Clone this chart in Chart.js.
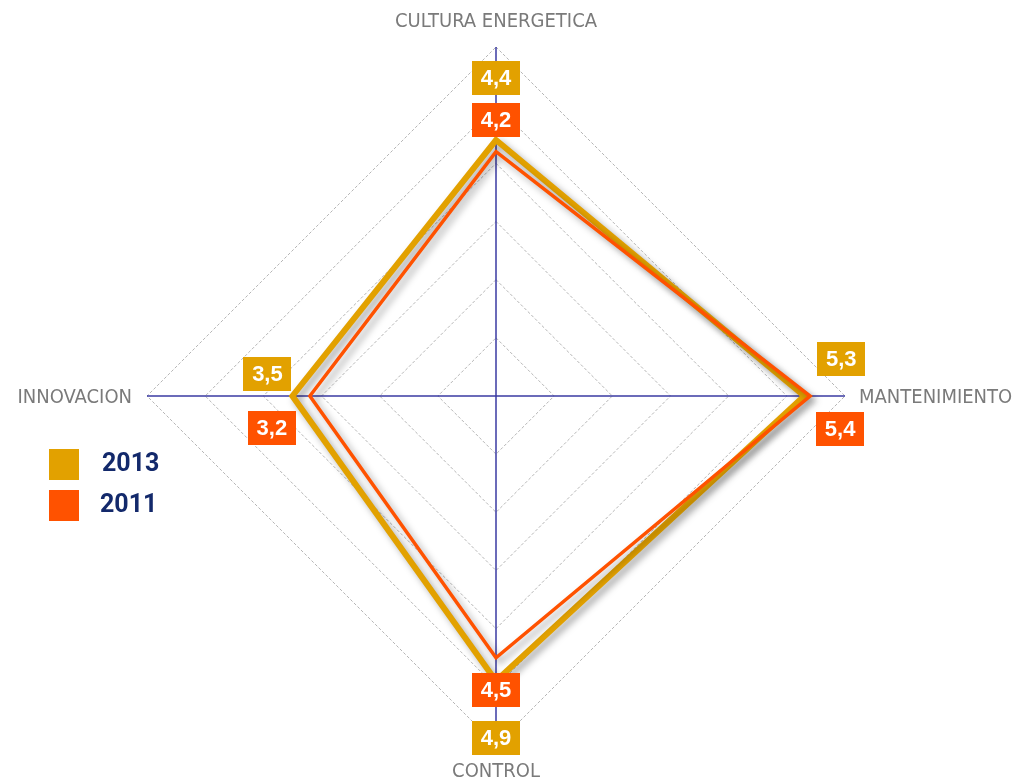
<!DOCTYPE html>
<html>
<head>
<meta charset="utf-8">
<script src="https://cdn.jsdelivr.net/npm/chart.js@4/dist/chart.umd.min.js"></script>
<style>
  html, body { margin: 0; padding: 0; background: #ffffff; }
  #wrap { width: 1017px; height: 779px; position: relative; }
</style>
</head>
<body>
<div id="wrap"><canvas id="c"></canvas></div>
<script>
const categories = ["CULTURA ENERGETICA", "MANTENIMIENTO", "CONTROL", "INNOVACION"];
const seriesNames = ["2013", "2011"];
const values2013 = [4.4, 5.3, 4.9, 3.5];
const values2011 = [4.2, 5.4, 4.5, 3.2];
const seriesColors = ["#E2A100", "#FF5200"];

const fmt = v => v.toFixed(1).replace('.', ',');

// pixel offsets of the value boxes from their data points [dataset][axis]
const boxOffsets = {
  "2013": [[0, -62], [37, -37], [0, 57], [-25, -22]],
  "2011": [[0, -32], [30, 33], [0, 32], [-38, 32]]
};

const decorPlugin = {
  id: 'decor',
  beforeDatasetDraw(chart) {
    const ctx = chart.ctx;
    ctx.save();
    ctx.shadowColor = 'rgba(0,0,0,0.35)';
    ctx.shadowBlur = 7;
    ctx.shadowOffsetX = 4;
    ctx.shadowOffsetY = 4;
  },
  afterDatasetDraw(chart) {
    chart.ctx.restore();
  },
  afterDraw(chart) {
    const ctx = chart.ctx;
    const scale = chart.scales.r;
    const R = scale.drawingArea;
    // axis labels
    ctx.save();
    ctx.font = '20px "DejaVu Sans Condensed", "DejaVu Sans"';
    ctx.fillStyle = '#7a7a7a';
    ctx.textBaseline = 'alphabetic';
    categories.forEach((lab, i) => {
      const p = scale.getPointPosition(i, R);
      if (i === 0) {
        ctx.textAlign = 'center';
        ctx.fillText(lab, p.x, p.y - 20);
      } else if (i === 1) {
        ctx.textAlign = 'left';
        ctx.fillText(lab, p.x + 14, p.y + 7);
      } else if (i === 2) {
        ctx.textAlign = 'center';
        ctx.fillText(lab, p.x, p.y + 32);
      } else {
        ctx.textAlign = 'right';
        ctx.fillText(lab, p.x - 15, p.y + 7);
      }
    });
    ctx.restore();

    // value boxes
    ctx.save();
    ctx.font = 'bold 22px "Liberation Sans", Arial, sans-serif';
    ctx.textAlign = 'center';
    ctx.textBaseline = 'middle';
    chart.data.datasets.forEach((ds, di) => {
      const meta = chart.getDatasetMeta(di);
      const offs = boxOffsets[ds.label];
      meta.data.forEach((pt, i) => {
        const cx = pt.x + offs[i][0];
        const cy = pt.y + offs[i][1];
        const w = 48, h = 34;
        ctx.fillStyle = ds.borderColor;
        ctx.fillRect(Math.round(cx - w / 2), Math.round(cy - h / 2), w, h);
        ctx.fillStyle = '#ffffff';
        ctx.fillText(fmt(ds.data[i]), cx, cy + 1);
      });
    });
    ctx.restore();

    // legend
    ctx.save();
    const legendItems = [
      { name: seriesNames[0], color: seriesColors[0], x: 49, y: 449, tx: 102 },
      { name: seriesNames[1], color: seriesColors[1], x: 49, y: 490, tx: 100 }
    ];
    ctx.font = 'bold 25px "Roboto", "Liberation Sans", sans-serif';
    ctx.textAlign = 'left';
    ctx.textBaseline = 'middle';
    legendItems.forEach(it => {
      ctx.fillStyle = it.color;
      ctx.fillRect(it.x, it.y, 30, 31);
      ctx.fillStyle = '#13296b';
      ctx.fillText(it.name, it.tx, it.y + 16);
    });
    ctx.restore();
  }
};

new Chart(document.getElementById('c'), {
  type: 'radar',
  data: {
    labels: categories,
    datasets: [
      {
        label: seriesNames[1],
        data: values2011,
        borderColor: seriesColors[1],
        borderWidth: 3.5,
        fill: false,
        pointRadius: 0,
        borderJoinStyle: 'miter'
      },
      {
        label: seriesNames[0],
        data: values2013,
        borderColor: seriesColors[0],
        borderWidth: 6,
        fill: false,
        pointRadius: 0,
        borderJoinStyle: 'miter'
      }
    ]
  },
  options: {
    responsive: true,
    maintainAspectRatio: false,
    animation: false,
    layout: { padding: { top: 47, bottom: 34, left: 147, right: 172 } },
    plugins: { legend: { display: false }, tooltip: { enabled: false } },
    scales: {
      r: {
        min: 0,
        max: 6,
        ticks: { display: false, stepSize: 1 },
        pointLabels: { display: false },
        grid: { color: '#b5b5b5', lineWidth: 1, circular: false },
        border: { dash: [3, 2] },
        angleLines: { color: '#3a3aa2', lineWidth: 1.5 }
      }
    }
  },
  plugins: [decorPlugin]
});
</script>
</body>
</html>
